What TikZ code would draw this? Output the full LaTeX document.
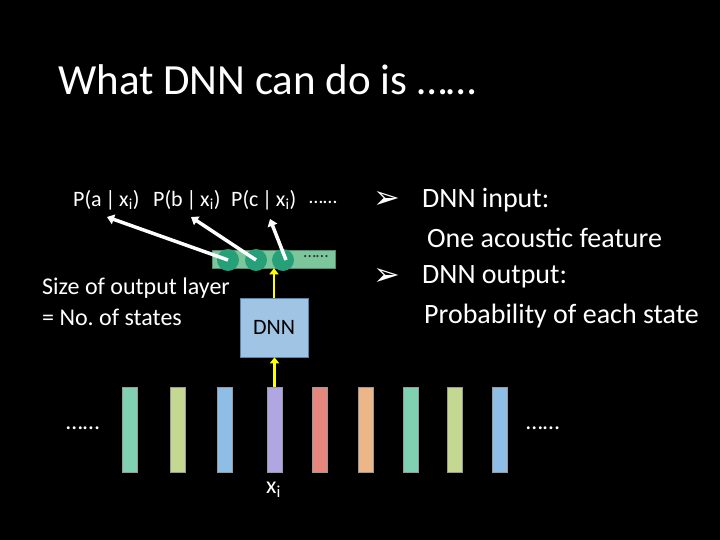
\documentclass[tikz,border=0pt]{standalone}
\usepackage{fontspec}
\setmainfont{Carlito}
\newfontfamily\symfont{DejaVu Sans}
\usetikzlibrary{arrows.meta}
\definecolor{barA}{RGB}{128,208,178}
\definecolor{barB}{RGB}{196,216,146}
\definecolor{barC}{RGB}{142,190,230}
\definecolor{barD}{RGB}{176,166,226}
\definecolor{barE}{RGB}{230,134,124}
\definecolor{barF}{RGB}{236,182,136}
\definecolor{outbar}{RGB}{124,198,156}
\definecolor{neuron}{RGB}{38,160,120}
\definecolor{dnnfill}{RGB}{160,196,228}
\definecolor{dnnline}{RGB}{90,130,170}
\definecolor{arrowyel}{RGB}{255,255,0}
\tikzset{
  featbar/.style={draw=black!40, line width=0.6pt, minimum width=15pt, minimum height=85pt, inner sep=0pt},
  neuronnode/.style={circle, fill=neuron, minimum size=22pt, inner sep=0pt},
  wtext/.style={text=white, inner sep=0pt, anchor=west},
  outarrow/.style={white, line width=3.5pt, -{Triangle[length=7pt,width=10pt]}},
  inarrow/.style={arrowyel, line width=2.5pt, -{Triangle[length=6pt,width=9pt]}},
}
\begin{document}
\frenchspacing
\begin{tikzpicture}[x=1pt,y=-1pt]
\fill[black] (0,0) rectangle (720,540);
\useasboundingbox (0,0) rectangle (720,540);
% title
\node[wtext, font=\fontsize{43}{50}\selectfont] (title) at (58,80) {What DNN can do is ……};
% output layer
\node[fill=outbar, draw=outbar!70!black, line width=0.5pt, minimum width=123pt, minimum height=18pt, inner sep=0pt] (outlayer) at (273.5,259) {};
\node[neuronnode] (n1) at (228,260) {};
\node[neuronnode] (n2) at (256,260) {};
\node[neuronnode] (n3) at (283,260) {};
\node[text=black!80, font=\fontsize{18}{20}\selectfont, inner sep=0pt] (odots) at (316,257) {……};
% probability labels
\node[wtext, font=\fontsize{22}{26}\selectfont] (pa) at (73,200) {P(a\,|\,x\textsubscript{i})};
\node[wtext, font=\fontsize{22}{26}\selectfont] (pb) at (153,200) {P(b\,|\,x\textsubscript{i})};
\node[wtext, font=\fontsize{22}{26}\selectfont] (pc) at (231,200) {P(c\,|\,x\textsubscript{i})};
\node[wtext, font=\fontsize{20}{24}\selectfont] (pdots) at (309,202) {……};
\coordinate (ta) at (107,217);
\coordinate (tb) at (191,217);
\coordinate (tc) at (270,219);
\draw[outarrow] (n1.center) -- (ta);
\draw[outarrow] (n2.center) -- (tb);
\draw[outarrow] ([xshift=3pt]n3.center) -- (tc);
% DNN box
\node[fill=dnnfill, draw=dnnline, line width=0.6pt, minimum width=68pt, minimum height=59pt, inner sep=0pt, font=\fontsize{22}{26}\selectfont] (dnn) at (274,327.5) {DNN};
\draw[inarrow] (dnn.north -| 274,0) -- (outlayer.south -| 274,0);
% size text
\node[wtext, font=\fontsize{24}{28}\selectfont] (size1) at (42,288) {Size of output layer};
\node[wtext, font=\fontsize{24}{28}\selectfont] (size2) at (42,317) {= No.\ of states};
% feature bars
\node[featbar, fill=barA] (b1) at (129.5,429.5) {};
\node[featbar, fill=barB] (b2) at (178,429.5) {};
\node[featbar, fill=barC] (b3) at (225,429.5) {};
\node[featbar, fill=barD] (b4) at (274.5,429.5) {};
\node[featbar, fill=barE] (b5) at (320,429.5) {};
\node[featbar, fill=barF] (b6) at (365.5,429.5) {};
\node[featbar, fill=barA] (b7) at (410.5,429.5) {};
\node[featbar, fill=barB] (b8) at (455,429.5) {};
\node[featbar, fill=barC] (b9) at (500,429.5) {};
\draw[inarrow] (b4.north) -- (dnn.south -| b4.north);
\node[wtext, font=\fontsize{24}{28}\selectfont] (ldots) at (66,428) {……};
\node[wtext, font=\fontsize{24}{28}\selectfont] (rdots) at (526,428) {……};
\node[wtext, font=\fontsize{24}{28}\selectfont] (xi) at (266,490) {x\textsubscript{i}};
% right text
\node[wtext, font=\fontsize{32}{36}\selectfont\symfont] (bul1) at (373,200) {➢};
\node[wtext, font=\fontsize{28}{32}\selectfont] (t1) at (422,200) {DNN input:};
\node[wtext, font=\fontsize{28}{32}\selectfont] (t2) at (427,238) {One acoustic feature};
\node[wtext, font=\fontsize{32}{36}\selectfont\symfont] (bul2) at (373,277) {➢};
\node[wtext, font=\fontsize{28}{32}\selectfont] (t3) at (422,277) {DNN output:};
\node[wtext, font=\fontsize{28}{32}\selectfont] (t4) at (424,316) {Probability of each state};
\end{tikzpicture}
\end{document}
